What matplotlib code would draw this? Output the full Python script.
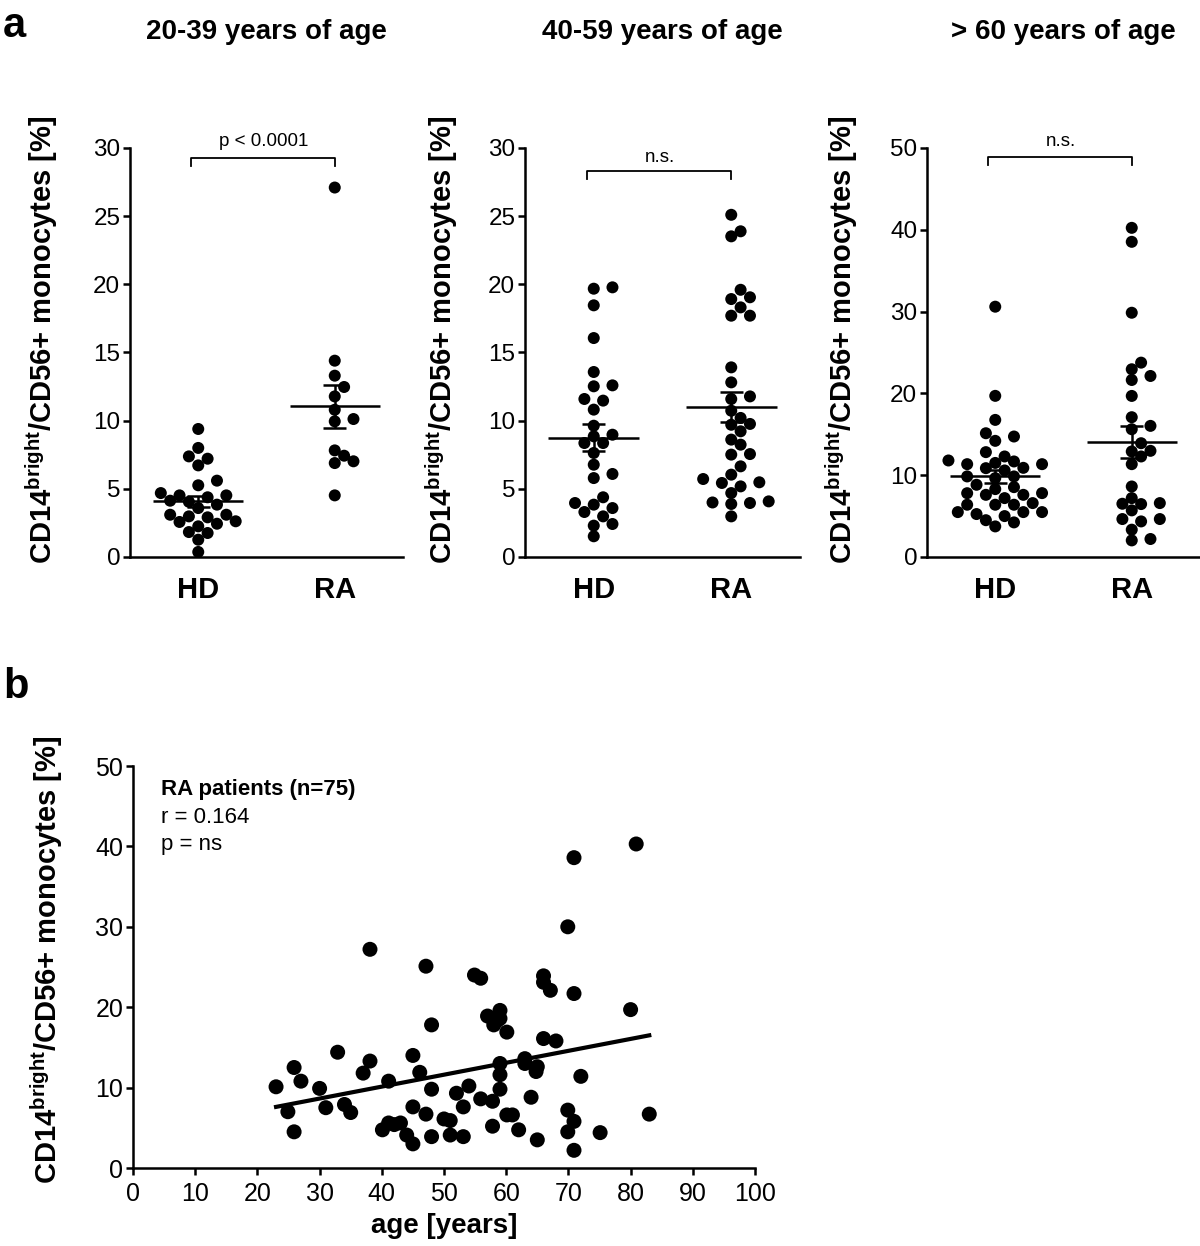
import numpy as np
import matplotlib
matplotlib.use("Agg")
import matplotlib.pyplot as plt

plt.rcParams['font.family'] = ['Liberation Sans', 'DejaVu Sans']
plt.rcParams['mathtext.fontset'] = 'custom'
plt.rcParams['mathtext.rm'] = 'Liberation Sans'
plt.rcParams['mathtext.bf'] = 'Liberation Sans:bold'

# ---- data ----
groups = ['HD', 'RA']
titles = ['20-39 years of age', '40-59 years of age', '> 60 years of age']
ymax_a = [30, 30, 50]
ystep_a = [5, 5, 10]
stat_text = ['p < 0.0001', 'n.s.', 'n.s.']
bracket_y = [29.3, 28.3, 48.9]
stat_y = [30.15, 28.98, 50.2]

hd_20_39 = [9.39, 7.38, 7.21, 8.0, 6.72, 5.6, 5.26, 4.52, 4.13, 4.69, 4.52, 4.38,
            3.59, 3.84, 3.1, 2.91, 2.98, 3.1, 2.57, 2.44, 2.62, 2.25, 1.76, 1.83,
            1.27, 0.37, 4.05]
ra_20_39 = [27.1, 14.4, 13.3, 12.47, 11.78, 10.8, 10.12, 9.95, 7.82, 7.02, 6.89,
            7.43, 4.52]

hd_40_59 = [19.78, 19.68, 18.46, 16.06, 13.57, 12.59, 12.52, 11.59, 11.47, 10.81,
            9.63, 8.85, 8.97, 8.36, 8.36, 7.63, 6.77, 6.09, 5.79, 4.38, 3.84, 3.96,
            3.59, 3.3, 2.98, 2.42, 2.3, 1.52]
ra_40_59 = [25.1, 23.89, 23.52, 19.6, 18.92, 19.05, 18.31, 17.7, 17.7, 13.91, 12.81,
            11.78, 11.59, 10.2, 10.73, 9.7, 9.76, 9.22, 8.61, 8.24, 7.55, 7.51, 6.65,
            6.04, 5.48, 5.72, 5.18, 5.43, 4.69, 4.08, 3.96, 3.89, 4.0, 2.98]

hd_60 = [30.6, 19.7, 16.76, 15.13, 14.2, 14.73, 12.29, 12.82, 11.68, 11.35, 11.5,
         11.35, 11.8, 10.86, 10.9, 10.58, 9.85, 9.64, 9.85, 8.54, 8.83, 7.81, 8.3,
         7.6, 7.6, 7.8, 7.2, 6.39, 6.59, 6.39, 6.39, 5.25, 5.49, 5.49, 5.49, 3.74,
         4.23, 4.5, 5.0]
ra_60 = [40.24, 38.53, 29.86, 23.76, 22.95, 22.13, 21.64, 19.69, 17.09, 16.03, 15.62,
         13.91, 12.98, 12.9, 12.29, 11.35, 8.62, 7.2, 6.51, 6.59, 6.47, 5.7, 4.64,
         4.35, 4.64, 3.34, 2.03, 2.2]

panel_data = [(hd_20_39, ra_20_39), (hd_40_59, ra_40_59), (hd_60, ra_60)]

age = [23.0, 24.9, 25.9, 25.9, 27.0, 30.0, 31.0, 32.9, 34.0, 35.0, 37.0, 38.1, 38.1,
       40.1, 41.1, 41.1, 43.0, 44.0, 45.0, 45.0, 45.0, 46.1, 47.1, 47.1, 48.0, 48.0,
       48.0, 50.0, 51.0, 51.0, 52.0, 53.1, 53.1, 54.0, 54.9, 55.9, 55.9, 57.0, 57.8,
       57.8, 58.0, 59.0, 59.0, 59.0, 59.0, 59.0, 60.1, 60.1, 61.0, 62.0, 63.0, 63.0,
       64.0, 65.0, 65.0, 66.0, 66.0, 66.0, 67.1, 68.0, 69.9, 69.9, 69.9, 70.9, 70.9,
       70.9, 70.9, 72.0, 75.1, 80.0, 80.9, 83.0, 58.5, 64.8, 42.0]
cd56 = [10.1, 7.0, 12.5, 4.5, 10.8, 9.9, 7.5, 14.4, 7.9, 6.9, 11.8, 13.3, 27.2,
        4.75, 10.8, 5.6, 5.6, 4.1, 3.0, 14.0, 7.6, 11.9, 25.1, 6.7, 9.8, 17.8,
        3.9, 6.1, 5.9, 4.1, 9.3, 7.6, 3.9, 10.2, 24.0, 23.6, 8.6, 18.9, 8.3,
        5.2, 17.8, 19.6, 13.0, 11.6, 9.8, 18.6, 16.9, 6.6, 6.6, 4.75, 13.6, 13.0,
        8.8, 12.6, 3.5, 23.9, 23.1, 16.1, 22.1, 15.8, 30.0, 7.2, 4.5, 38.6, 21.7,
        5.8, 2.2, 11.4, 4.4, 19.7, 40.3, 6.7, 18.3, 12.0, 5.4]
fit_age = [23, 83]
fit_cd56 = [7.6, 16.5]

ylab = 'CD14$^{\\mathbf{bright}}$/CD56+ monocytes [%]'

W, H = 1200, 1246
fig = plt.figure(figsize=(W / 100, H / 100), dpi=100)


def swarm(values, center, diam, xscale, yscale):
    # simple beeswarm: place each dot at the nearest free offset
    values = np.asarray(values, float)
    xs = np.zeros(len(values))
    placed = []
    step = 0.78 * diam
    cands = [0.0]
    for j in range(1, 30):
        cands += [j * step, -j * step]
    for i in np.argsort(values):
        y = values[i] * yscale
        for c in cands:
            if all((c - px) ** 2 + (y - py) ** 2 >= (0.88 * diam) ** 2 for px, py in placed):
                break
        placed.append((c, y))
        xs[i] = center + c / xscale
    return xs


def style(ax, size):
    for s in ['top', 'right']:
        ax.spines[s].set_visible(False)
    for s in ['left', 'bottom']:
        ax.spines[s].set_linewidth(1.8)
    ax.tick_params(axis='y', length=5, width=1.8, pad=2, labelsize=size)


lefts = [130, 525, 927]
widths = [273, 275, 273]
label_x = [-0.256, -0.236, -0.245]
ax_bottom = (H - 557) / H
ax_height = 409 / H
diam_a = 12

for k in range(3):
    ax = fig.add_axes([lefts[k] / W, ax_bottom, widths[k] / W, ax_height])
    style(ax, 17.5)
    ax.set_xlim(-0.5, 1.5)
    ax.set_ylim(0, ymax_a[k])
    ax.set_yticks(np.arange(0, ymax_a[k] + 1, ystep_a[k]))
    ax.set_xticks([0, 1])
    ax.set_xticklabels(groups, fontsize=21, fontweight='bold')
    ax.tick_params(axis='x', length=0, pad=14)
    ax.set_ylabel(ylab, fontsize=21, fontweight='bold')
    ax.yaxis.set_label_coords(label_x[k], 0.53)

    xscale = widths[k] / 2.0
    yscale = 409.0 / ymax_a[k]
    for g, vals in enumerate(panel_data[k]):
        xs = swarm(vals, g, diam_a, xscale, yscale)
        ax.scatter(xs, vals, s=(diam_a / 1.389) ** 2, color='black', edgecolors='none',
                   zorder=3, clip_on=False)
        v = np.asarray(vals)
        m = v.mean()
        sem = v.std(ddof=1) / np.sqrt(len(v))
        ax.hlines(m, g - 0.33, g + 0.33, color='black', lw=1.8, zorder=4)
        ax.vlines(g, m - sem, m + sem, color='black', lw=1.8, zorder=4)
        ax.hlines([m - sem, m + sem], g - 0.085, g + 0.085, color='black', lw=1.8, zorder=4)

    # significance bracket
    tick = 8.0 / yscale
    by = bracket_y[k]
    ax.plot([-0.05, -0.05, 1.0, 1.0], [by - tick, by, by, by - tick], color='black',
            lw=1.3, clip_on=False)
    ax.text(0.48, stat_y[k], stat_text[k], ha='center', va='baseline', fontsize=13.5)

    fig.text((lefts[k] + widths[k] / 2) / W, 1 - 39 / H, titles[k], ha='center',
             va='baseline', fontsize=20, fontweight='bold')

fig.text(3 / W, 1 - 37 / H, 'a', fontsize=30, fontweight='bold', va='baseline')
fig.text(3 / W, 1 - 698 / H, 'b', fontsize=30, fontweight='bold', va='baseline')

# ---- panel b ----
axb = fig.add_axes([133 / W, (H - 1168) / H, 622 / W, 402 / H])
style(axb, 18)
axb.set_xlim(0, 100)
axb.set_ylim(0, 50)
axb.set_xticks(np.arange(0, 101, 10))
axb.set_yticks(np.arange(0, 51, 10))
axb.tick_params(axis='x', length=5, width=1.8, pad=5, labelsize=18)
axb.scatter(age, cd56, s=(15 / 1.389) ** 2, color='black', edgecolors='none', zorder=3,
            clip_on=False)
axb.plot(fit_age, fit_cd56, color='black', lw=3, zorder=4)
axb.set_ylabel(ylab, fontsize=21, fontweight='bold')
axb.yaxis.set_label_coords(-0.109, 0.517)
axb.set_xlabel('age [years]', fontsize=20, fontweight='bold', labelpad=5)
axb.text(0.045, 0.928, 'RA patients (n=75)', transform=axb.transAxes, fontsize=16,
         fontweight='bold', va='baseline')
axb.text(0.045, 0.858, 'r = 0.164', transform=axb.transAxes, fontsize=16, va='baseline')
axb.text(0.045, 0.791, 'p = ns', transform=axb.transAxes, fontsize=16, va='baseline')

fig.savefig('out.png', dpi=100)
